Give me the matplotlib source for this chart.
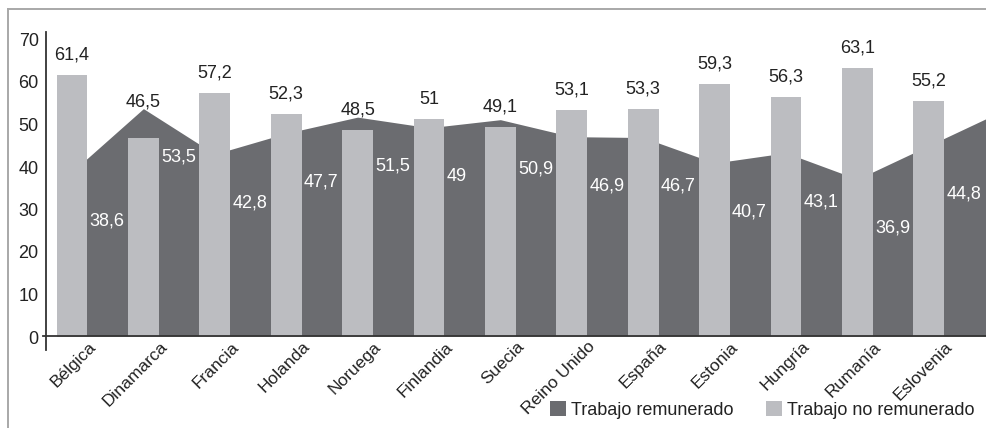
import numpy as np
import matplotlib
matplotlib.use("Agg")
import matplotlib.pyplot as plt
from matplotlib.patches import Patch
from matplotlib.lines import Line2D

plt.rcParams['font.family'] = ['Liberation Sans', 'DejaVu Sans']

categories = ["Bélgica", "Dinamarca", "Francia", "Holanda", "Noruega", "Finlandia",
              "Suecia", "Reino Unido", "España", "Estonia", "Hungría", "Rumanía", "Eslovenia"]
remunerado = [38.6, 53.5, 42.8, 47.7, 51.5, 49.0, 50.9, 46.9, 46.7, 40.7, 43.1, 36.9, 44.8]
no_remunerado = [61.4, 46.5, 57.2, 52.3, 48.5, 51.0, 49.1, 53.1, 53.3, 59.3, 56.3, 63.1, 55.2]
yticks = [0, 10, 20, 30, 40, 50, 60, 70]

def fmt(v):
    s = f"{v:.1f}".replace(".", ",")
    if s.endswith(",0"):
        s = s[:-2]
    return s

DARK = "#6b6c70"
LIGHT = "#bcbdc1"
TXT = "#222222"
PT = 0.72  # points per pixel at dpi 100

W, H = 986, 428
fig = plt.figure(figsize=(W / 100, H / 100), dpi=100)

px_per_unit = 4.25
ax_left_px = 45.7
ax_bottom_px = 336
ytop = 71.6
ax_h_px = ytop * px_per_unit
cat_px = 71.4
first_center_px = 72
ax = fig.add_axes([ax_left_px / W, (H - ax_bottom_px) / H, (W - ax_left_px) / W, ax_h_px / H])

xleft = -(first_center_px - ax_left_px) / cat_px
xright = xleft + (W - ax_left_px) / cat_px
ax.set_xlim(xleft, xright)
ax.set_ylim(0, ytop)

n = len(categories)
x = np.arange(n)
bw = 0.43
rem = np.array(remunerado)
nrem = np.array(no_remunerado)

# area, extended linearly to the first bar's left edge and past the right edge
x0 = -bw / 2
y0 = rem[0] + (x0 - 0) * (rem[1] - rem[0])
x1 = xright + 0.2
y1 = rem[-1] + (x1 - x[-1]) * (rem[-1] - rem[-2])
ax_x = np.r_[x0, x, x1]
ax_y = np.r_[y0, rem, y1]
ax.fill_between(ax_x, 0, ax_y, color=DARK, lw=0, zorder=1)

ax.bar(x, nrem, width=bw, color=LIGHT, zorder=2)

for i in range(n):
    ylab = max(nrem[i] + 20 / px_per_unit, rem[i] + 7 / px_per_unit)
    ax.text(x[i], ylab, fmt(nrem[i]), ha="center", va="center", fontsize=13, color=TXT, zorder=4)
    ax.text(x[i] + bw / 2 + 0.03, rem[i] - 11.5, fmt(rem[i]), ha="left", va="center",
            fontsize=13, color="white", zorder=4)

for s in ax.spines.values():
    s.set_visible(False)
ax.set_xticks([])
ax.set_yticks([])

# y tick labels
for t in yticks:
    ax.annotate(str(t), xy=(0, t), xycoords=("axes fraction", "data"),
                xytext=(-7 * PT, -3 * PT), textcoords="offset points",
                ha="right", va="center", fontsize=13, color=TXT, annotation_clip=False)

# x tick labels
for i, c in enumerate(categories):
    ax.annotate(c, xy=(x[i], 0), xycoords=("data", "axes fraction"),
                xytext=(16 * PT, -3 * PT), textcoords="offset points",
                ha="right", va="top", rotation=45, rotation_mode="anchor",
                fontsize=12.5, color=TXT, annotation_clip=False)

# axis lines
ax.add_line(Line2D([-3 / (W - ax_left_px), 1], [0, 0], transform=ax.transAxes, color="#333333",
                   lw=1.3, clip_on=False, zorder=5))
ax.add_line(Line2D([0, 0], [-14 / ax_h_px, 1], transform=ax.transAxes, color="#333333",
                   lw=1.3, clip_on=False, zorder=5))

# outer frame
fig.add_artist(Line2D([8 / W, 8 / W], [0, (H - 9) / H], color="#a8a8a8", lw=1.4))
fig.add_artist(Line2D([8 / W, 1], [(H - 9) / H, (H - 9) / H], color="#a8a8a8", lw=1.4))

handles = [Patch(facecolor=DARK, edgecolor="none"), Patch(facecolor=LIGHT, edgecolor="none")]
fig.legend(handles, ["Trabajo remunerado", "Trabajo no remunerado"], ncol=2, frameon=False,
           loc="center left", bbox_to_anchor=(550 / W, 18 / H), fontsize=13,
           handlelength=0.9, handleheight=0.9, handletextpad=0.25, columnspacing=1.8,
           borderpad=0, borderaxespad=0, labelcolor=TXT)

fig.savefig("out.png", dpi=100)
